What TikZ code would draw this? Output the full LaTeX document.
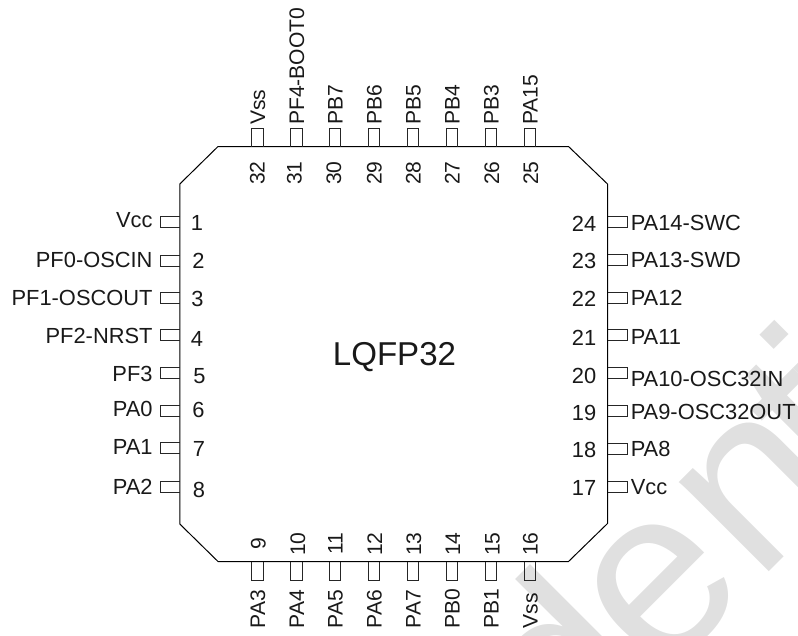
\documentclass[tikz,border=0pt]{standalone}
\usepackage{fontspec}
\setmainfont{Liberation Sans}
\begin{document}
\begin{tikzpicture}[x=0.75pt,y=-0.75pt,
  pinshape/.style={draw=black!85,line width=0.6pt},
  body/.style={draw=black,line width=0.75pt},
  lab/.style={inner sep=0pt,text height=11.7pt,text depth=0pt,font=\fontsize{16.4pt}{18pt}\selectfont,text=black!90},
  vlab/.style={lab,font=\fontsize{15.8pt}{18pt}\selectfont,text height=11.3pt},
  wmark/.style={inner sep=0pt,text=black!12,font=\fontsize{180pt}{200pt}\selectfont}]
\useasboundingbox (0,0) rectangle (798,635);
\begin{scope}
\clip (0,0) rectangle (798,635);
\node[wmark,rotate=45,anchor=base west] (watermark) at (570,771) {d\kern-5.5pt e\kern3.7pt n\kern-14.25pt t\kern-15pt i};
\end{scope}
% body
\draw[body] (218,146.5) -- (568.5,146.5) -- (607.5,184) -- (607.5,523.5) -- (568.5,561.5) -- (218,561.5) -- (179.8,524) -- (179.8,184) -- cycle;
\node[lab,font=\fontsize{24.8pt}{28pt}\selectfont,text height=17.8pt] (title) at (394.5,354) {LQFP32};
% left
\foreach \n/\t/\py/\ly/\ny/\nx in {1/Vcc/222/219.5/223/197,2/PF0-OSCIN/260.5/260/260.7/198.5,3/PF1-OSCOUT/298/298/299/197.5,4/PF2-NRST/335.3/336/339/197,5/PF3/373.3/373.5/376/199.5,6/PA0/411/409/410/198.5,7/PA1/448.3/447/449/199,8/PA2/486.5/486.5/490/199}{
  \draw[pinshape] (179.8,\py-5.5) -- (160,\py-5.5) -- (160,\py+5.5) -- (179.8,\py+5.5);
  \node[lab,anchor=east] (lab\n) at (152.8,\ly) {\t};
  \node[lab] (num\n) at (\nx,\ny) {\n};
}
% right
\foreach \n/\t/\py/\ly/\ny in {24/PA14-SWC/222/223/223.7,23/PA13-SWD/260/260/260.5,22/PA12/298/298/299,21/PA11/335/336.5/338,20/PA10-OSC32IN/373/379/376,19/PA9-OSC32OUT/411/411.5/412.5,18/PA8/449/449/450,17/Vcc/486.6/486.5/487.5}{
  \draw[pinshape] (607.5,\py-5.5) -- (627,\py-5.5) -- (627,\py+5.5) -- (607.5,\py+5.5);
  \node[lab,anchor=west] (lab\n) at (630.5,\ly) {\t};
  \node[lab] (num\n) at (584,\ny) {\n};
}
% top
\foreach \n/\t/\px/\nx in {32/Vss/257.5/257,31/PF4-BOOT0/296.5/294,30/PB7/335/333.5,29/PB6/374/374,28/PB5/413/413,27/PB4/452/452,26/PB3/491/491.5,25/PA15/530/530.5}{
  \draw[pinshape] (\px-5.8,146.5) -- (\px-5.8,128) -- (\px+5.8,128) -- (\px+5.8,146.5);
  \node[vlab,rotate=90,anchor=west] (lab\n) at (\px,125) {\t};
  \node[vlab,rotate=90] (num\n) at (\nx,173) {\n};
}
% bottom
\foreach \n/\t/\px/\nx in {9/PA3/257.5/258,10/PA4/296.5/297.5,11/PA5/335/335,12/PA6/374/374.5,13/PA7/413/413.7,14/PB0/452/452.5,15/PB1/491/492,16/Vss/530/530}{
  \draw[pinshape] (\px-5.8,561.5) -- (\px-5.8,580) -- (\px+5.8,580) -- (\px+5.8,561.5);
  \node[vlab,rotate=90,anchor=west] (lab\n) at (\px,628.5) {\t};
  \node[vlab,rotate=90] (num\n) at (\nx,544) {\n};
}
\end{tikzpicture}
\end{document}
